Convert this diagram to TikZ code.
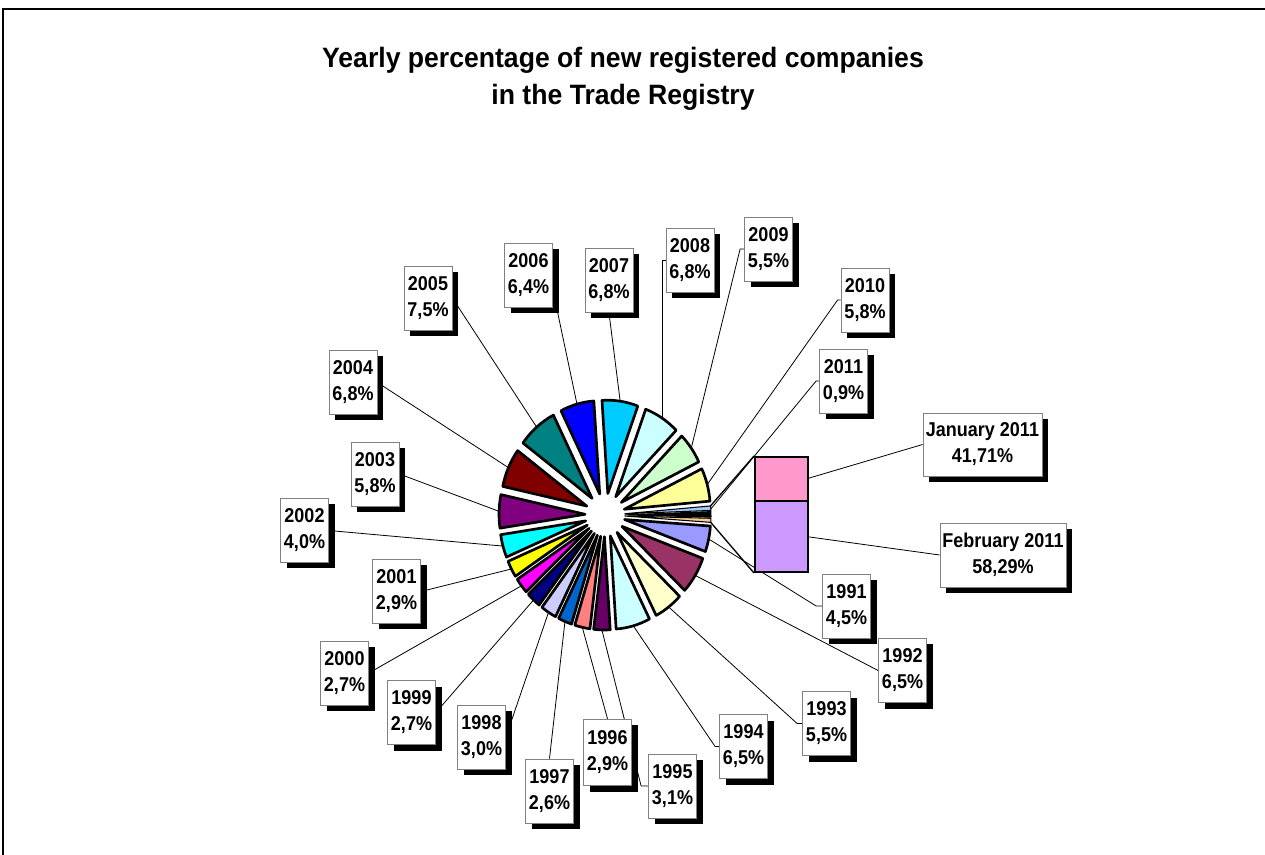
\documentclass[tikz,border=0pt]{standalone}
\usepackage{fontspec}
\setmainfont{Liberation Sans}
\newfontfamily\lblfont[FakeStretch=0.9]{Liberation Sans}
\newfontfamily\ttlfont[FakeStretch=0.95]{Liberation Sans}
\usetikzlibrary{calc,shadows,backgrounds}
\definecolor{c1991}{HTML}{9999FF}
\definecolor{c1992}{HTML}{993366}
\definecolor{c1993}{HTML}{FFFFCC}
\definecolor{c1994}{HTML}{CCFFFF}
\definecolor{c1995}{HTML}{660066}
\definecolor{c1996}{HTML}{FF8080}
\definecolor{c1997}{HTML}{0066CC}
\definecolor{c1998}{HTML}{CCCCFF}
\definecolor{c1999}{HTML}{000080}
\definecolor{c2000}{HTML}{FF00FF}
\definecolor{c2001}{HTML}{FFFF00}
\definecolor{c2002}{HTML}{00FFFF}
\definecolor{c2003}{HTML}{800080}
\definecolor{c2004}{HTML}{800000}
\definecolor{c2005}{HTML}{008080}
\definecolor{c2006}{HTML}{0000FF}
\definecolor{c2007}{HTML}{00CCFF}
\definecolor{c2008}{HTML}{CCFFFF}
\definecolor{c2009}{HTML}{CCFFCC}
\definecolor{c2010}{HTML}{FFFF99}
\definecolor{c2011}{HTML}{99CCFF}
\definecolor{cother}{HTML}{FFCC99}
\definecolor{cjan}{HTML}{FF99CC}
\definecolor{cfeb}{HTML}{CC99FF}
\begin{document}
\begin{tikzpicture}[x=0.75pt,y=-0.75pt,
  slice/.style={draw=black, line width=2pt, line join=round},
  thinslice/.style={draw=black, line width=0.8pt, line join=round},
  lbl/.style={draw=gray, line width=0.6pt, fill=white, align=center,
    font=\lblfont\bfseries\fontsize{15}{19.5}\selectfont, minimum width=36pt, minimum height=48pt,
    inner sep=0pt, general shadow={fill=black, shadow xshift=4.5pt, shadow yshift=-4.5pt}},
  lead/.style={draw=black, line width=0.6pt},
  serie/.style={draw=black, line width=1pt},
  barpart/.style={draw=black, line width=1.5pt, minimum width=39.75pt, inner sep=0pt},
  ttl/.style={font=\ttlfont\bfseries\fontsize{21}{24}\selectfont, anchor=base}
  ]
\useasboundingbox (0,0) rectangle (1265,855);
\draw[line width=1.2pt] (3,855) -- (3,9) -- (1265,9);

\node[ttl] (t1) at (623,68) {Yearly percentage of new registered companies};
\node[ttl] (t2) at (623,105) {in the Trade Registry};

% pie
\begin{scope}[shift={(605,515)}, yscale=1.085]
\foreach \a/\b/\c/\n in {4/20.068/c1991/1991, 20.068/43.278/c1992/1992, 43.278/62.917/c1993/1993,
  62.917/86.127/c1994/1994, 86.127/97.196/c1995/1995, 97.196/107.551/c1996/1996,
  107.551/116.835/c1997/1997, 116.835/127.547/c1998/1998, 127.547/137.188/c1999/1999,
  137.188/146.829/c2000/2000, 146.829/157.184/c2001/2001, 157.184/171.467/c2002/2002,
  171.467/192.177/c2003/2003, 192.177/216.458/c2004/2004, 216.458/243.238/c2005/2005,
  243.238/266.090/c2006/2006, 266.090/290.371/c2007/2007, 290.371/314.652/c2008/2008,
  314.652/334.291/c2009/2009, 334.291/355.001/c2010/2010}{
  \pgfmathsetmacro\m{(\a+\b)/2}
  \filldraw[slice, fill=\c] (\m:20) -- ++(\a:86) arc[start angle=\a, end angle=\b, radius=86] -- cycle;
  \coordinate (s\n) at (\m:106);
}
\filldraw[thinslice, fill=c2011] (356.6:20) -- ++(355.2:86) arc[start angle=355.2, end angle=358.0, radius=86] -- cycle;
\filldraw[thinslice, fill=black] (359.7:20) -- ++(358.0:86) arc[start angle=358.0, end angle=361.4, radius=86] -- cycle;
\filldraw[thinslice, fill=cother] (362.7:20) -- ++(361.4:86) arc[start angle=361.4, end angle=363.9, radius=86] -- cycle;
\coordinate (s2011) at (357:106);
\coordinate (tTop) at (355.4:106);
\coordinate (tBot) at (363.7:106);
\end{scope}

% bar of pie
\node[barpart, fill=cjan, minimum height=33pt] (jan) at (781.5,479) {};
\node[barpart, fill=cfeb, minimum height=53.25pt] (feb) at (781.5,536.5) {};

% labels
\node[lbl] (b2005) at (428,298) {2005\\7,5\%};
\node[lbl] (b2006) at (528.5,275) {2006\\6,4\%};
\node[lbl] (b2007) at (609,280.5) {2007\\6,8\%};
\node[lbl] (b2008) at (690,260) {2008\\6,8\%};
\node[lbl] (b2009) at (768.5,249) {2009\\5,5\%};
\node[lbl] (b2010) at (865,300) {2010\\5,8\%};
\node[lbl] (b2011) at (843.5,381) {2011\\0,9\%};
\node[lbl, minimum width=89.25pt, minimum height=47.25pt] (bjan) at (982.5,444.5) {January 2011\\41,71\%};
\node[lbl, minimum width=94.5pt, minimum height=48pt] (bfeb) at (1003,555) {February 2011\\58,29\%};
\node[lbl] (b1991) at (846.5,606) {1991\\4,5\%};
\node[lbl] (b1992) at (902.5,670.5) {1992\\6,5\%};
\node[lbl] (b1993) at (826.5,723.5) {1993\\5,5\%};
\node[lbl] (b1994) at (743.5,746.5) {1994\\6,5\%};
\node[lbl] (b1995) at (672.5,786) {1995\\3,1\%};
\node[lbl, minimum height=50pt] (b1996) at (607.5,752.5) {1996\\2,9\%};
\node[lbl] (b1997) at (549.5,791) {1997\\2,6\%};
\node[lbl] (b1998) at (481.5,737) {1998\\3,0\%};
\node[lbl] (b1999) at (411.5,712.5) {1999\\2,7\%};
\node[lbl] (b2000) at (344.5,673) {2000\\2,7\%};
\node[lbl] (b2001) at (396.5,591.5) {2001\\2,9\%};
\node[lbl] (b2002) at (304.5,530.5) {2002\\4,0\%};
\node[lbl] (b2003) at (375,474) {2003\\5,8\%};
\node[lbl] (b2004) at (353,382.5) {2004\\6,8\%};

% leader lines (behind everything)
\begin{pgfonlayer}{background}
\draw[lead] (s2005) -- (b2005.east);
\draw[lead] (s2006) -- ($(b2006.east)+(0,15)$);
\draw[lead] (s2007) -- (b2007.south);
\draw[lead] (s2008) |- (b2008.west);
\draw[lead] (s2009) -- ($(b2009.west)+(-4,0)$) -- (b2009.west);
\draw[lead] (s2010) -- ($(b2010.west)+(-3,0)$) -- (b2010.west);
\draw[lead] (s2011) -- ($(b2011.west)+(-3,0)$) -- (b2011.west);
\draw[lead] ($(jan.east)+(-3,0)$) -- (bjan.west);
\draw[lead] ($(feb.east)+(-3,0)$) -- (bfeb.west);
\draw[lead] (s1991) -- ($(b1991.west)+(-6,0)$) -- (b1991.west);
\draw[lead] (s1992) -- (b1992.west);
\draw[lead] (s1993) -- ($(b1993.west)+(-5,0)$) -- (b1993.west);
\draw[lead] (s1994) -- ($(b1994.west)+(-4,0)$) -- (b1994.west);
\draw[lead] (s1995) -- ($(b1995.west)+(-7,0)$) -- (b1995.west);
\draw[lead] (s1996) -- (b1996.north);
\draw[lead] (s1997) -- (b1997.north);
\draw[lead] (s1998) -- (b1998.east);
\draw[lead] (s1999) -- (b1999.east);
\draw[lead] (s2000) -- (b2000.east);
\draw[lead] (s2001) -- (b2001.east);
\draw[lead] (s2002) -- (b2002.east);
\draw[lead] (s2003) -- (b2003.east);
\draw[lead] (s2004) -- (b2004.east);
\draw[serie] (tTop) -- (jan.north west);
\draw[serie] (tBot) -- (feb.south west);
\end{pgfonlayer}
\end{tikzpicture}
\end{document}
